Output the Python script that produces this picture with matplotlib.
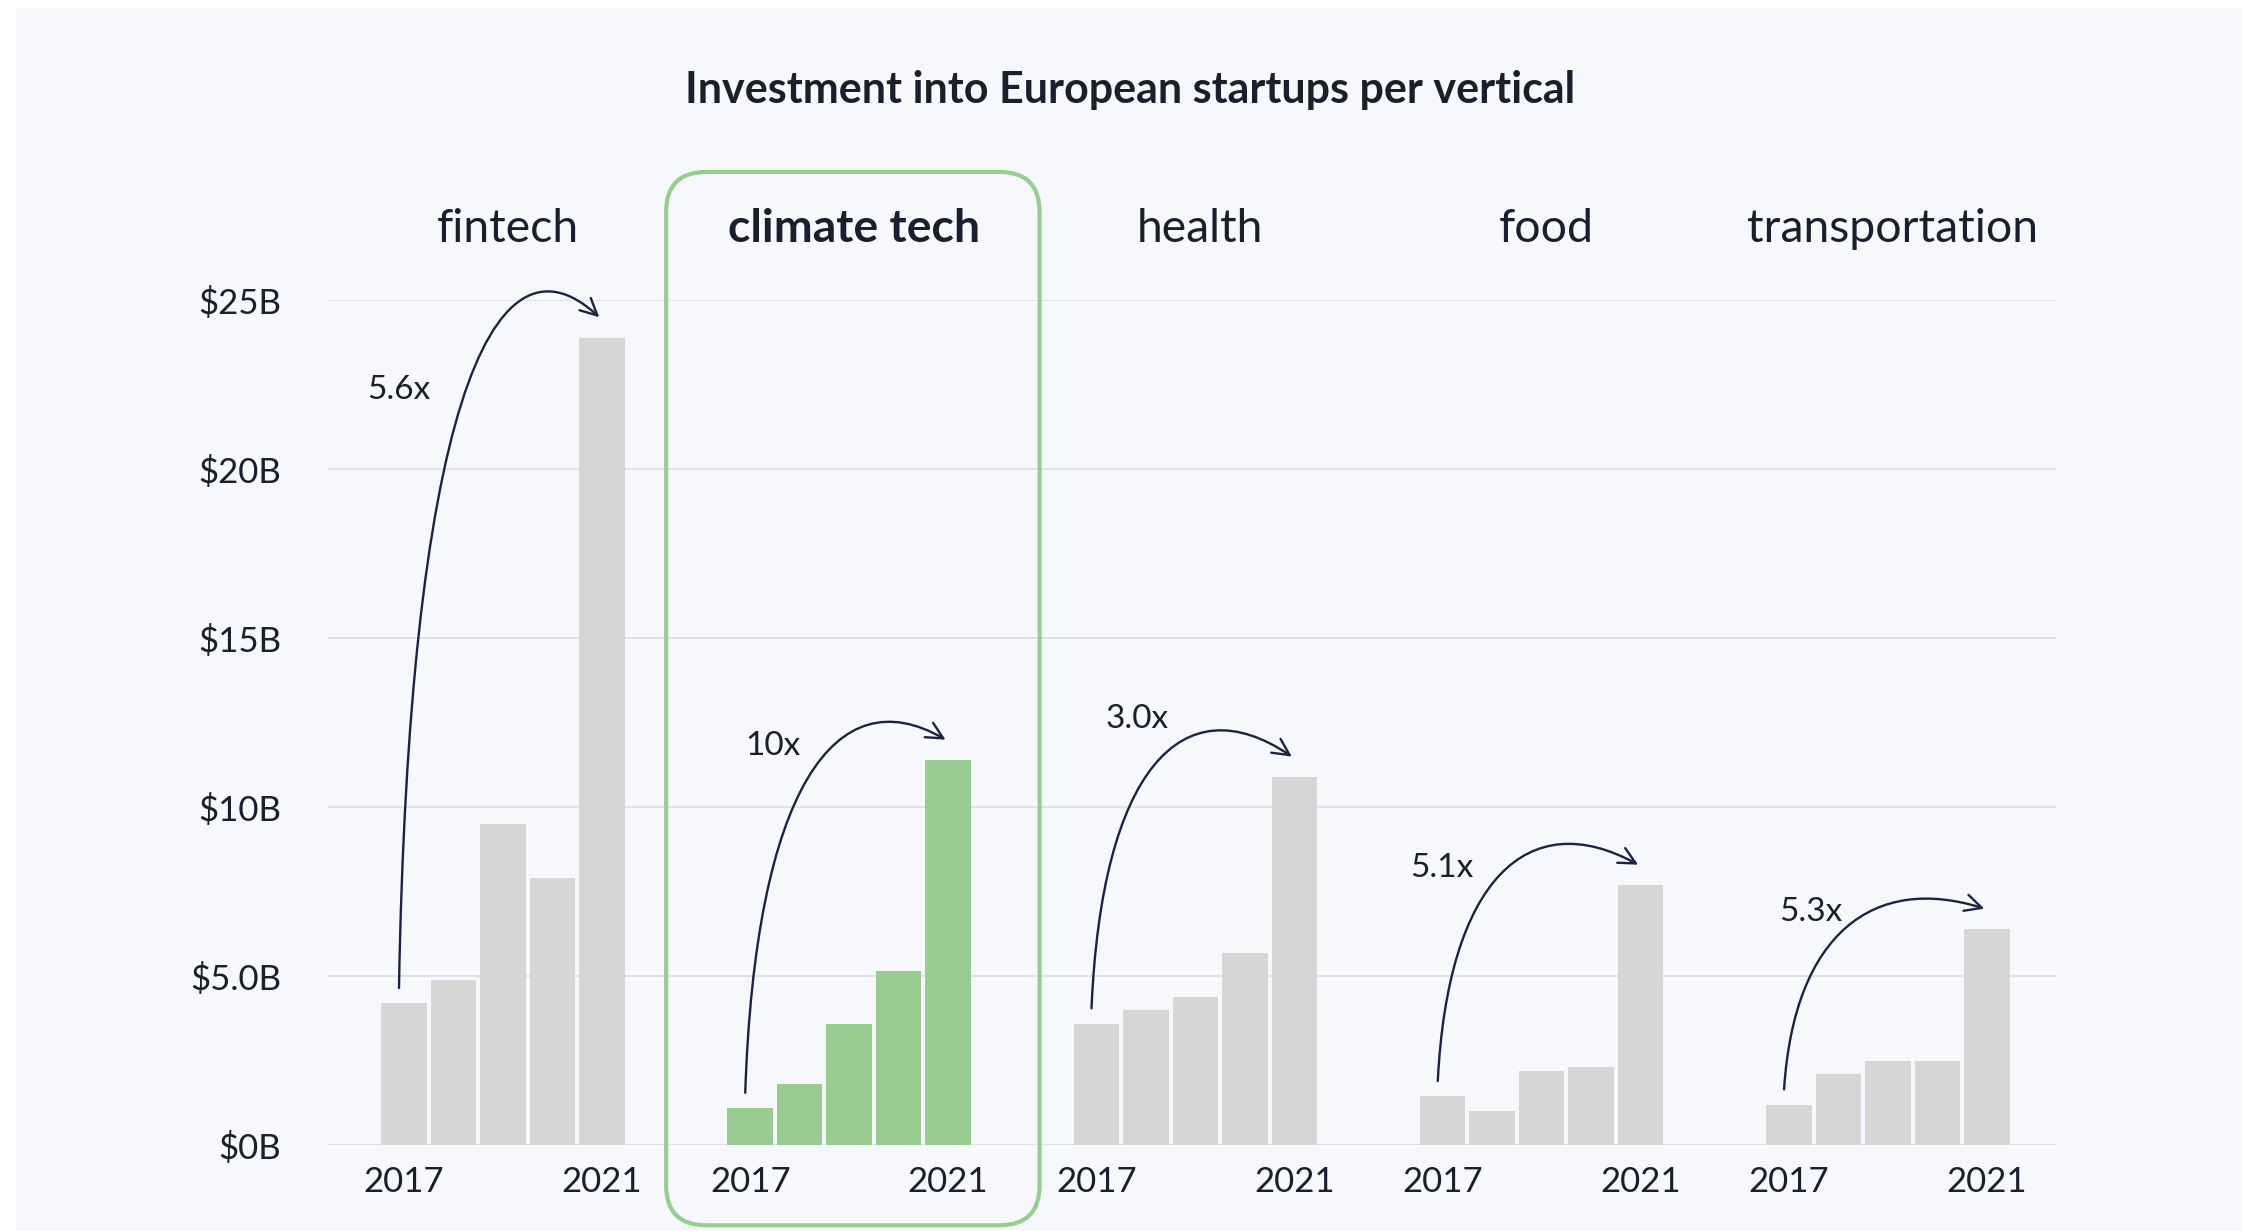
import matplotlib.pyplot as plt
import numpy as np
from matplotlib.patches import FancyArrowPatch, FancyBboxPatch, Rectangle
from matplotlib.path import Path

plt.rcParams['font.family'] = ['Lato', 'DejaVu Sans']

verticals = ['fintech', 'climate tech', 'health', 'food', 'transportation']
years = [2017, 2018, 2019, 2020, 2021]
fintech = [4.2, 4.9, 9.5, 7.9, 23.9]
climate_tech = [1.1, 1.8, 3.6, 5.15, 11.4]
health = [3.6, 4.0, 4.4, 5.7, 10.9]
food = [1.45, 1.0, 2.2, 2.3, 7.7]
transportation = [1.2, 2.1, 2.5, 2.5, 6.4]
growth = ['5.6x', '10x', '3.0x', '5.1x', '5.3x']
y_ticks = [0, 5, 10, 15, 20, 25]
y_tick_labels = ['$0B', '$5.0B', '$10B', '$15B', '$20B', '$25B']

series = [fintech, climate_tech, health, food, transportation]
highlight = 'climate tech'

GREY = '#d6d6d6'
GREEN = '#99cc91'
BOX_GREEN = '#94cf8f'
INK = '#1b1e2c'
ARROW = '#1c2340'
BG = '#f7f8fc'

# arrow tweaks (peak above end, label offset from group start)
arrow_rise = [-0.3, 0.1, 0.8, 0.6, 0.1]
label_dx = [-0.1, 0.46, 0.83, -0.02, 0.44]
label_dy = [-2.15, -0.2, 1.1, -0.1, -0.1]

GAP = 7  # slots between groups

fig = plt.figure(figsize=(11.21, 6.155), dpi=200, facecolor='white')
fig.patches.append(Rectangle((16 / 2242, 0), 1, 1 - 8 / 1231, transform=fig.transFigure,
                             facecolor=BG, edgecolor='none', zorder=-10))
ax = fig.add_axes([0.1464, 0.0697, 0.7707, 0.6863])
ax.set_facecolor('none')

for i, (name, vals) in enumerate(zip(verticals, series)):
    xs = i * GAP + np.arange(len(years))
    color = GREEN if name == highlight else GREY
    ax.bar(xs, vals, width=0.92, color=color, zorder=2)
    ax.text(xs.mean() + 0.1, 1.084, name, transform=ax.get_xaxis_transform(),
            ha='center', va='center', fontsize=16.7, color=INK,
            fontweight='bold' if name == highlight else 'normal')

    # growth arrow from first to last year
    x0, y0 = xs[0] - 0.1, vals[0] + 0.45
    x3, y3 = xs[-1] - 0.05, vals[-1] + 0.6
    h = y3 + arrow_rise[i] - y0
    w = x3 - x0
    verts = [(x0, y0), (x0 + 0.05 * w, y0 + 0.85 * h),
             (x0 + 0.45 * w, y0 + 1.17 * h), (x3, y3)]
    path = Path(verts, [Path.MOVETO, Path.CURVE4, Path.CURVE4, Path.CURVE4])
    arr = FancyArrowPatch(path=path, arrowstyle='->,head_length=0.6,head_width=0.3',
                          mutation_scale=10, color=ARROW, lw=0.85, zorder=4, clip_on=False)
    ax.add_patch(arr)
    ax.text(xs[0] + label_dx[i], y3 + label_dy[i], growth[i], ha='center', va='center',
            fontsize=12, color=INK, zorder=5)

ax.set_xlim(-1.53, 33.4)
ax.set_ylim(0, 25)

tick_pos = []
tick_lab = []
for i in range(len(verticals)):
    tick_pos += [i * GAP, i * GAP + len(years) - 1]
    tick_lab += [str(years[0]), str(years[-1])]
ax.set_xticks(tick_pos)
ax.set_xticklabels(tick_lab)
ax.set_yticks(y_ticks)
ax.set_yticklabels(y_tick_labels)
ax.tick_params(axis='both', length=0, labelsize=12.5, colors=INK)
ax.tick_params(axis='x', pad=7.5)
ax.tick_params(axis='y', pad=17)

ax.grid(axis='y', color='#dcdee4', lw=0.6, zorder=0)
for s in ax.spines.values():
    s.set_visible(False)

# highlight box around the climate tech group
k = verticals.index(highlight)
fig.canvas.draw()
to_in = ax.transData + fig.dpi_scale_trans.inverted()
(bx0, by0) = to_in.transform((k * GAP - 1.7, -2.37))
(bx1, by1) = to_in.transform((k * GAP + len(years) + 0.85, 28.8))
r = 0.2
box = FancyBboxPatch((bx0 + r, by0 + r), bx1 - bx0 - 2 * r, by1 - by0 - 2 * r,
                     boxstyle=f'round,pad={r}', transform=fig.dpi_scale_trans,
                     facecolor='none', edgecolor=BOX_GREEN, lw=1.5, zorder=6)
fig.patches.append(box)

fig.text(0.504, 0.927, 'Investment into European startups per vertical',
         ha='center', va='center', fontsize=15.5, fontweight='bold', color=INK)

plt.savefig('out.png', dpi=200, facecolor=fig.get_facecolor())
